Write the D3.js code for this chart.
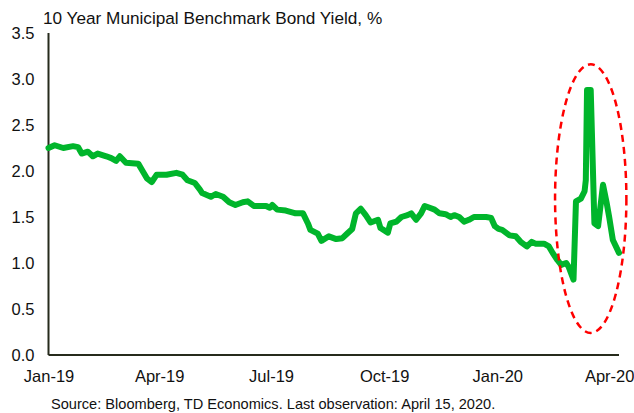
<!DOCTYPE html>
<html>
<head>
<meta charset="utf-8">
<script src="https://cdn.jsdelivr.net/npm/d3@7"></script>
<style>
    html, body { margin: 0; padding: 0; background: #fff; }
    svg { display: block; font-family: "Liberation Sans", Arial, sans-serif; }
</style>
</head>
<body>
<svg id="chart" width="634" height="413"></svg>
<script>
// Chart data
const dates = [
    '2019-01-01', '2019-01-06', '2019-01-13', '2019-01-21', '2019-01-25', '2019-01-28',
    '2019-02-02', '2019-02-06', '2019-02-10', '2019-02-17', '2019-02-21', '2019-02-25',
    '2019-02-28', '2019-03-05', '2019-03-15', '2019-03-19', '2019-03-22', '2019-03-26',
    '2019-03-30', '2019-04-07', '2019-04-15', '2019-04-20', '2019-04-24', '2019-04-30',
    '2019-05-04', '2019-05-06', '2019-05-13', '2019-05-17', '2019-05-23', '2019-05-28',
    '2019-06-02', '2019-06-08', '2019-06-12', '2019-06-17', '2019-06-27', '2019-06-30',
    '2019-07-02', '2019-07-06', '2019-07-13', '2019-07-21', '2019-07-27', '2019-07-31',
    '2019-08-02', '2019-08-08', '2019-08-11', '2019-08-17', '2019-08-23', '2019-08-28',
    '2019-09-01', '2019-09-05', '2019-09-08', '2019-09-12', '2019-09-16', '2019-09-20',
    '2019-09-26', '2019-09-28', '2019-10-04', '2019-10-06', '2019-10-11', '2019-10-15',
    '2019-10-20', '2019-10-23', '2019-10-27', '2019-10-31', '2019-11-03', '2019-11-07',
    '2019-11-11', '2019-11-15', '2019-11-20', '2019-11-24', '2019-11-27', '2019-12-01',
    '2019-12-05', '2019-12-09', '2019-12-13', '2019-12-23', '2019-12-27', '2019-12-30',
    '2020-01-02', '2020-01-05', '2020-01-11', '2020-01-16', '2020-01-20', '2020-01-25',
    '2020-01-29', '2020-02-01', '2020-02-08', '2020-02-12', '2020-02-15', '2020-02-19',
    '2020-02-22', '2020-02-26', '2020-02-28', '2020-03-03', '2020-03-05', '2020-03-09',
    '2020-03-12', '2020-03-13', '2020-03-14', '2020-03-17', '2020-03-20', '2020-03-23',
    '2020-03-27', '2020-03-30', '2020-04-01', '2020-04-04', '2020-04-09'
];

const yields = [
    2.25, 2.28, 2.25, 2.27, 2.26, 2.19,
    2.21, 2.16, 2.19, 2.16, 2.14, 2.11,
    2.16, 2.09, 2.08, 1.99, 1.92, 1.88,
    1.96, 1.96, 1.98, 1.96, 1.90, 1.87,
    1.80, 1.76, 1.72, 1.75, 1.72, 1.66,
    1.63, 1.66, 1.67, 1.62, 1.62, 1.60,
    1.63, 1.58, 1.57, 1.54, 1.54, 1.43,
    1.36, 1.32, 1.24, 1.29, 1.26, 1.27,
    1.32, 1.37, 1.54, 1.59, 1.52, 1.44,
    1.47, 1.38, 1.33, 1.43, 1.45, 1.50,
    1.52, 1.54, 1.47, 1.54, 1.62, 1.60,
    1.58, 1.54, 1.53, 1.50, 1.52, 1.50,
    1.45, 1.47, 1.50, 1.50, 1.49, 1.40,
    1.37, 1.36, 1.30, 1.29, 1.23, 1.18,
    1.23, 1.21, 1.21, 1.18, 1.11, 1.03,
    0.98, 1.00, 0.96, 0.82, 1.67, 1.70,
    1.78, 1.90, 2.88, 2.88, 1.43, 1.40,
    1.85, 1.65, 1.50, 1.25, 1.11
];

const xTickDates = ['2019-01-01', '2019-04-01', '2019-07-01', '2019-10-01', '2020-01-01', '2020-04-01'];
const xTickLabels = ['Jan-19', 'Apr-19', 'Jul-19', 'Oct-19', 'Jan-20', 'Apr-20'];
const yTicks = [0, 0.5, 1.0, 1.5, 2.0, 2.5, 3.0, 3.5];

// Dashed ellipse around the March 2020 spike: date span and yield span
const highlightDates = ['2020-02-17', '2020-04-15'];
const highlightYields = [0.24, 3.16];

const TITLE = '10 Year Municipal Benchmark Bond Yield, %';
const SOURCE = 'Source: Bloomberg, TD Economics. Last observation: April 15, 2020.';

// Layout
const CONFIG = {
    width: 634,
    height: 413,
    plot: { left: 48.5, right: 619, top: 33, bottom: 355 },
    xDomainEnd: '2020-04-09',
    lineColor: '#00b52b',
    axisColor: '#262b1c',
    textColor: '#111'
};

const parseDate = d3.timeParse('%Y-%m-%d');

function drawChart() {
    const svg = d3.select('#chart');
    const p = CONFIG.plot;

    const x = d3.scaleTime()
        .domain([parseDate(dates[0]), parseDate(CONFIG.xDomainEnd)])
        .range([p.left, p.right]);

    const y = d3.scaleLinear()
        .domain([0, 3.5])
        .range([p.bottom, p.top]);

    // Title
    svg.append('text')
        .attr('x', 43)
        .attr('y', 24)
        .attr('font-size', '17.2px')
        .attr('fill', CONFIG.textColor)
        .text(TITLE);

    // Y axis (no tick marks, labels only)
    const yAxis = svg.append('g')
        .attr('transform', `translate(${p.left},0)`)
        .call(d3.axisLeft(y)
            .tickValues(yTicks)
            .tickSize(0)
            .tickPadding(14)
            .tickFormat(d3.format('.1f')));
    yAxis.select('.domain').remove();
    yAxis.selectAll('text')
        .attr('font-size', '16.5px')
        .attr('font-family', '"Liberation Sans", Arial, sans-serif')
        .attr('fill', CONFIG.textColor);

    // X axis labels at quarter starts
    const xAxis = svg.append('g')
        .attr('transform', `translate(0,${p.bottom})`)
        .call(d3.axisBottom(x)
            .tickValues(xTickDates.map(parseDate))
            .tickSize(0)
            .tickPadding(15)
            .tickFormat((d, i) => xTickLabels[i]));
    xAxis.select('.domain').remove();
    xAxis.selectAll('text')
        .attr('font-size', '16.5px')
        .attr('font-family', '"Liberation Sans", Arial, sans-serif')
        .attr('fill', CONFIG.textColor);

    // Axis lines
    svg.append('line')
        .attr('x1', p.left).attr('x2', p.left)
        .attr('y1', y(3.5)).attr('y2', y(0))
        .attr('stroke', CONFIG.axisColor)
        .attr('stroke-width', 2);
    svg.append('line')
        .attr('x1', p.left).attr('x2', p.right)
        .attr('y1', y(0)).attr('y2', y(0))
        .attr('stroke', CONFIG.axisColor)
        .attr('stroke-width', 2);

    // Yield line
    const series = dates.map((d, i) => ({ date: parseDate(d), value: yields[i] }));
    const line = d3.line()
        .x(d => x(d.date))
        .y(d => y(d.value));

    svg.append('path')
        .datum(series)
        .attr('d', line)
        .attr('fill', 'none')
        .attr('stroke', CONFIG.lineColor)
        .attr('stroke-width', 6)
        .attr('stroke-linejoin', 'round')
        .attr('stroke-linecap', 'round');

    // Highlight ellipse
    const ex0 = x(parseDate(highlightDates[0]));
    const ex1 = x(parseDate(highlightDates[1]));
    const ey0 = y(highlightYields[0]);
    const ey1 = y(highlightYields[1]);
    svg.append('ellipse')
        .attr('cx', (ex0 + ex1) / 2)
        .attr('cy', (ey0 + ey1) / 2)
        .attr('rx', (ex1 - ex0) / 2)
        .attr('ry', Math.abs(ey0 - ey1) / 2)
        .attr('fill', 'none')
        .attr('stroke', '#ff0000')
        .attr('stroke-width', 2.5)
        .attr('stroke-dasharray', '7,5');

    // Source note
    svg.append('text')
        .attr('x', 51)
        .attr('y', 409)
        .attr('font-size', '14.6px')
        .attr('fill', CONFIG.textColor)
        .text(SOURCE);
}

document.addEventListener('DOMContentLoaded', drawChart);
</script>
</body>
</html>
